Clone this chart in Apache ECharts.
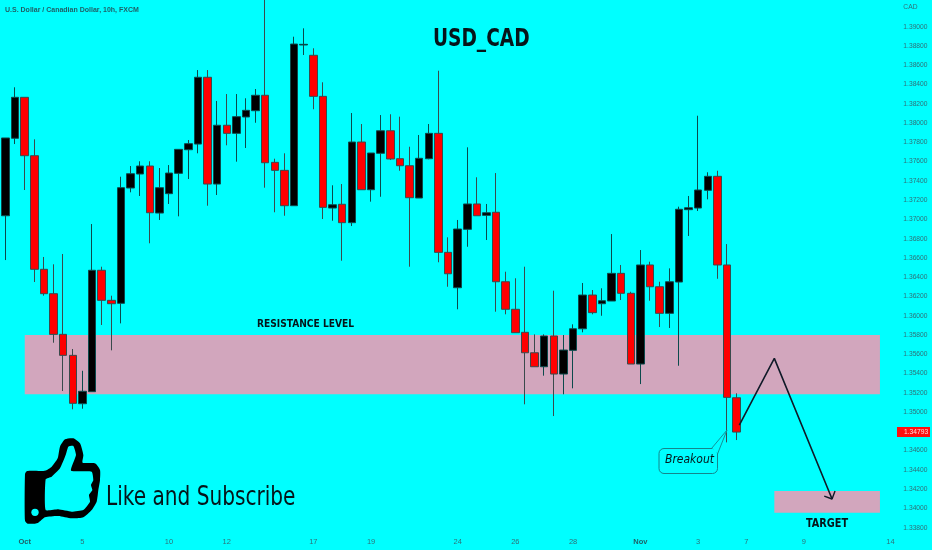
<!DOCTYPE html>
<html><head><meta charset="utf-8">
<style>html,body{margin:0;padding:0;background:#00ffff}#c{width:932px;height:550px}</style>
<script src="https://cdn.jsdelivr.net/npm/echarts@6/dist/echarts.min.js"></script>
</head><body><div id="c"></div>
<script>
const opens=[1.37038,1.37842,1.38267,1.37661,1.36482,1.36229,1.35807,1.35589,1.35087,1.35212,1.36472,1.36160,1.36129,1.37326,1.37471,1.37554,1.37066,1.37267,1.37478,1.37723,1.37782,1.38475,1.37367,1.37977,1.37893,1.38063,1.38128,1.38288,1.37592,1.37509,1.37142,1.38810,1.38703,1.38277,1.37118,1.37157,1.36966,1.37803,1.37308,1.37686,1.37920,1.37630,1.37557,1.37222,1.37630,1.37893,1.36658,1.36291,1.36897,1.37160,1.37042,1.37074,1.36353,1.36067,1.35828,1.35616,1.35471,1.35790,1.35395,1.35641,1.35865,1.36215,1.36125,1.36153,1.36440,1.36233,1.35499,1.36527,1.36301,1.36025,1.36350,1.37101,1.37118,1.37302,1.37447,1.36527,1.35149];
const closes=[1.37845,1.38267,1.37661,1.36482,1.36229,1.35807,1.35589,1.35091,1.35216,1.36472,1.36160,1.36125,1.37329,1.37474,1.37554,1.37069,1.37329,1.37481,1.37727,1.37786,1.38475,1.37367,1.37977,1.37893,1.38066,1.38132,1.38288,1.37588,1.37509,1.37142,1.38820,1.38817,1.38277,1.37125,1.37152,1.36966,1.37803,1.37308,1.37689,1.37920,1.37627,1.37557,1.37225,1.37634,1.37893,1.36658,1.36436,1.36900,1.37160,1.37038,1.37069,1.36353,1.36067,1.35824,1.35616,1.35471,1.35790,1.35395,1.35644,1.35865,1.36215,1.36032,1.36156,1.36440,1.36233,1.35499,1.36527,1.36301,1.36025,1.36353,1.37105,1.37121,1.37305,1.37447,1.36527,1.35153,1.34793];
const lows=[1.36578,1.37782,1.37305,1.36350,1.36208,1.35720,1.35219,1.35029,1.35035,1.35212,1.35904,1.35641,1.35921,1.37281,1.37243,1.36752,1.36994,1.37160,1.37032,1.37419,1.37686,1.37142,1.37253,1.37769,1.37599,1.37741,1.38003,1.37329,1.37074,1.37038,1.37142,1.38706,1.38143,1.37004,1.36986,1.36571,1.36931,1.37308,1.37184,1.37235,1.37616,1.37505,1.36509,1.37222,1.37624,1.36555,1.36301,1.36067,1.36716,1.37038,1.36786,1.36042,1.36015,1.35824,1.35081,1.35471,1.35378,1.34959,1.35185,1.35247,1.35828,1.36015,1.36000,1.36153,1.36163,1.35499,1.35291,1.36156,1.35883,1.35873,1.35481,1.36828,1.37087,1.37208,1.36384,1.34686,1.34710];
const highs=[1.37845,1.38371,1.38267,1.37831,1.36610,1.36534,1.36641,1.35655,1.35429,1.36952,1.36509,1.36208,1.37443,1.37554,1.37603,1.37603,1.37533,1.37564,1.37727,1.37824,1.38550,1.38550,1.38229,1.38301,1.38301,1.38257,1.38353,1.39350,1.37630,1.37686,1.38896,1.38983,1.38776,1.38423,1.37354,1.37367,1.38104,1.37990,1.37689,1.38083,1.38091,1.38066,1.37754,1.37876,1.37990,1.38543,1.36814,1.36994,1.37748,1.37437,1.37160,1.37481,1.36457,1.36389,1.36509,1.35807,1.35807,1.36260,1.35800,1.35911,1.36340,1.36267,1.36285,1.36848,1.36527,1.36249,1.36682,1.36561,1.36353,1.36492,1.37132,1.37243,1.38076,1.37489,1.37505,1.36744,1.35195];
const xTickIndex=[2,8,17,23,32,38,47,53,59,66,72,77,83,92];
const xTickLabels=['Oct','5','10','12','17','19','24','26','28','Nov','3','7','9','14'];
const boldTicks=['Oct','Nov'];
const slotCount=93;
const resistanceZone={from:2,to:90.9,low:1.35185,high:1.358};
const targetZone={from:79.92,to:90.9,low:1.33956,high:1.34181};
const projectionX=[76.28,79.92,85.92];
const projectionY=[1.34866,1.35558,1.34098];
const arrowHeadX=[85.11,85.92,86.23];
const arrowHeadY=[1.34129,1.34098,1.34181];
const lastPrice=1.34793;
const thumbOuter=[[30,132],[36,123],[50,122],[90,122],[110,110],[128,85],[135,50],[150,28],[175,25],[195,40],[205,75],[203,98],[240,100],[255,120],[255,150],[250,180],[245,215],[230,240],[205,262],[170,265],[130,258],[90,262],[70,278],[60,281],[38,281],[30,272]];
const thumbInner=[[92,148],[110,140],[135,115],[152,75],[160,50],[175,48],[183,75],[168,122],[230,125],[235,150],[228,165],[232,180],[222,195],[225,215],[205,240],[170,245],[130,238],[92,240]];
const categories=Array.from({length:slotCount},(_,i)=>{const k=xTickIndex.indexOf(i);return k>=0?xTickLabels[k]:'';});
const candles=opens.map((o,i)=>[o,closes[i],lows[i],highs[i]]);
const pink='#d2a6bd',txt='#2f7078',ink='#06151a';
const chart=echarts.init(document.getElementById('c'),null,{renderer:'canvas'});
const zoneStyle={color:pink,opacity:1};
chart.setOption({
 animation:false,backgroundColor:'#00ffff',
 grid:{left:0.69,top:0,width:894.66,height:547},
 xAxis:[
  {type:'category',data:categories,boundaryGap:true,axisLine:{show:false},axisTick:{show:false},splitLine:{show:false},
   axisLabel:{inside:true,margin:1,interval:0,color:txt,fontSize:7.5,fontFamily:'"Liberation Sans"',
    formatter:v=>boldTicks.includes(v)?'{b|'+v+'}':v,rich:{b:{fontWeight:'bold',fontSize:7.5,color:'#1f5f66',fontFamily:'"Liberation Sans"'}}}},
  {type:'value',show:false,min:-0.5,max:92.5}
 ],
 yAxis:[{type:'value',position:'right',min:1.336,max:1.39277,interval:0.002,scale:true,axisLine:{show:false},axisTick:{show:false},splitLine:{show:false},
   axisLabel:{show:true,margin:8,color:txt,fontSize:6.7,fontFamily:'"Liberation Sans"',showMinLabel:false,showMaxLabel:false,
    formatter:v=>{if(Math.abs(v-1.392)<1e-6)return 'CAD';if(v>1.3905||v<1.337)return '';return v.toFixed(5);}}}],
 series:[
  {type:'line',xAxisIndex:1,yAxisIndex:0,data:[],z:1,silent:true,
   markArea:{silent:true,itemStyle:zoneStyle,data:[
    [{xAxis:resistanceZone.from,yAxis:resistanceZone.high},{xAxis:resistanceZone.to,yAxis:resistanceZone.low}],
    [{xAxis:targetZone.from,yAxis:targetZone.high},{xAxis:targetZone.to,yAxis:targetZone.low}]]}},
  {type:'candlestick',xAxisIndex:0,yAxisIndex:0,data:candles,barWidth:8,z:3,clip:false,
   itemStyle:{color:'#000000',color0:'#ff0000',borderColor:'#0b4a4c',borderColor0:'#3a4a4c',borderWidth:1}},
  {type:'line',xAxisIndex:1,yAxisIndex:0,data:projectionX.map((x,i)=>[x,projectionY[i]]),symbol:'none',z:4,lineStyle:{color:'#101a28',width:1.6}},
  {type:'line',xAxisIndex:1,yAxisIndex:0,data:arrowHeadX.map((x,i)=>[x,arrowHeadY[i]]),symbol:'none',z:4,lineStyle:{color:'#101a28',width:1.4}}
 ],
 graphic:[
  {id:'hdr',type:'text',x:5,y:7,style:{text:'U.S. Dollar / Canadian Dollar, 10h, FXCM',fill:'#1f5f66',font:'bold 7px "Liberation Sans"'}},
  {id:'ttl',type:'text',x:433,y:28,scaleX:0.86,style:{text:'USD_CAD',fill:ink,font:'bold 24px "DejaVu Sans Condensed"'}},
  {id:'res',type:'text',x:257,y:319,scaleX:0.92,style:{text:'RESISTANCE LEVEL',fill:ink,font:'bold 11px "DejaVu Sans Condensed"'}},
  {id:'tgt',type:'text',x:806,y:518,scaleX:0.9,style:{text:'TARGET',fill:ink,font:'bold 12px "DejaVu Sans Condensed"'}},
  {id:'lik',type:'text',x:106,y:485,scaleX:0.86,style:{text:'Like and Subscribe',fill:ink,font:'26px "DejaVu Sans Condensed"'}},
  {id:'thumb',type:'group',x:15,y:430,scaleX:1/3,scaleY:1/3,children:[
    {type:'polygon',shape:{points:thumbOuter,smooth:0.2},style:{fill:'#000000'}},
    {type:'polygon',shape:{points:thumbInner,smooth:0.15},style:{fill:'#00ffff'}},
    {type:'circle',shape:{cx:60,cy:247,r:11},style:{fill:'#00ffff'}}
  ]},
  {id:'cbox',type:'rect',shape:{x:659,y:448.5,width:58.5,height:25,r:5},style:{fill:'#00ffff',stroke:'#14868c',lineWidth:1},z:5},
  {id:'cfill',type:'polygon',shape:{points:[[711.5,447.5],[727,430],[718.5,454]]},style:{fill:'#00ffff'},z:5},
  {id:'cleg',type:'polyline',shape:{points:[[711.5,448.5],[727,430],[717.5,454]]},style:{fill:null,stroke:'#14868c',lineWidth:0.9},z:5},
  {id:'ctxt',type:'text',x:665,y:454,style:{text:'Breakout',fill:ink,font:'italic 12px "DejaVu Sans Condensed"'},z:6}
 ]
});
const py=chart.convertToPixel({yAxisIndex:0},lastPrice);
chart.setOption({graphic:[
 {id:'pbox',type:'rect',shape:{x:897,y:py-5,width:33,height:10},style:{fill:'#ff0f0f'},z:7},
 {id:'ptxt',type:'text',x:904,y:py-3.5,style:{text:lastPrice.toFixed(5),fill:'#ffe0e0',font:'6.7px "Liberation Sans"'},z:8}
]});
</script></body></html>
